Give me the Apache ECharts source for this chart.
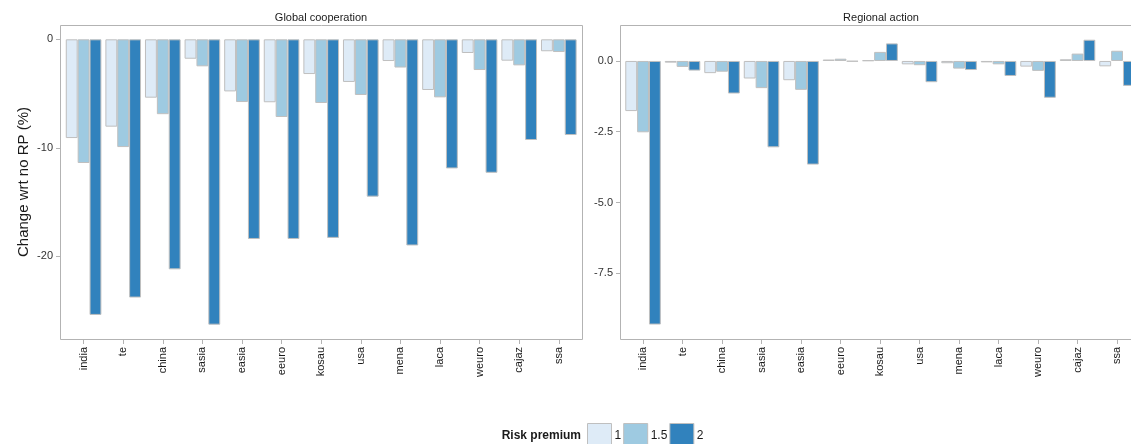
<!DOCTYPE html>
<html>
<head>
<meta charset="utf-8">
<script src="https://cdn.jsdelivr.net/npm/echarts@6/dist/echarts.min.js"></script>
<style>
html,body{margin:0;padding:0;background:#fff;overflow:hidden;width:1131px;height:444px;}
#c{width:1150px;height:444px;}
</style>
</head>
<body>
<div id="c"></div>
<script>
const categories = ['india','te','china','sasia','easia','eeuro','kosau','usa','mena','laca','weuro','cajaz','ssa'];
const riskLevels = ['1','1.5','2'];
const colors = ['#deebf7','#9ecae1','#3182bd'];

// Global cooperation panel
const global_rp1  = [-9.1, -8.05, -5.38, -1.79, -4.8, -5.8, -3.2, -3.93, -2.0, -4.67, -1.26, -1.97, -1.1];
const global_rp15 = [-11.4, -9.93, -6.9, -2.49, -5.78, -7.16, -5.87, -5.13, -2.6, -5.35, -2.83, -2.4, -1.17];
const global_rp2  = [-25.4, -23.8, -21.2, -26.3, -18.4, -18.4, -18.3, -14.5, -19.0, -11.9, -12.3, -9.28, -8.82];

// Regional action panel
const regional_rp1  = [-1.77, -0.06, -0.43, -0.62, -0.68, 0.05, 0.02, -0.12, -0.08, -0.05, -0.2, 0.06, -0.19];
const regional_rp15 = [-2.52, -0.21, -0.38, -0.96, -1.02, 0.08, 0.32, -0.15, -0.27, -0.12, -0.35, 0.26, 0.36];
const regional_rp2  = [-9.31, -0.34, -1.15, -3.05, -3.66, -0.02, 0.62, -0.75, -0.32, -0.53, -1.3, 0.75, -0.88];

const globalTicks = [0, -10, -20];
const regionalTicks = [0, -2.5, -5, -7.5];

const panelTitles = ['Global cooperation', 'Regional action'];

const FONT = 'Liberation Sans, Arial, sans-serif';
const chart = echarts.init(document.getElementById('c'));

function mkX(gi){
  return {
    type:'category', gridIndex:gi, data:categories, position:'bottom',
    axisLine:{show:false, onZero:false},
    axisTick:{show:true, alignWithLabel:true, length:5, lineStyle:{color:'#b3b3b3', width:1}},
    axisLabel:{rotate:90, fontSize:11, color:'#1a1a1a', fontFamily:FONT, margin:8, interval:0},
    splitLine:{show:false}
  };
}
function mkY(gi, min, max, ticks, fmt, offset, name){
  return {
    type:'value', gridIndex:gi, min:min, max:max, offset:offset,
    name:name||'', nameLocation:'middle', nameGap:29, nameRotate:90,
    nameTextStyle:{fontSize:15, color:'#1a1a1a', fontFamily:FONT},
    axisLine:{show:false, onZero:false},
    axisTick:{show:true, length:4, lineStyle:{color:'#b3b3b3'}, customValues:ticks},
    axisLabel:{fontSize:11, color:'#333', fontFamily:FONT, margin:7, customValues:ticks, formatter:fmt},
    splitLine:{show:false}
  };
}
function mkS(name, data, ci, gi){
  return {
    type:'bar', name:name, xAxisIndex:gi, yAxisIndex:gi, data:data,
    barWidth:'30%', barGap:'0%',
    itemStyle:{color:colors[ci], borderColor:'#bfbfbf', borderWidth:1},
    emphasis:{disabled:true}, animation:false
  };
}

const option = {
  animation:false,
  grid:[
    {left:63.8, top:25, width:514.8, height:314, show:false, containLabel:false},
    {left:623.3, top:25, width:513.5, height:314, show:false, containLabel:false}
  ],
  xAxis:[mkX(0), mkX(1)],
  yAxis:[
    mkY(0, -27.62, 1.32, globalTicks, v => String(Math.round(v)), 3.8, 'Change wrt no RP (%)'),
    mkY(1, -9.82, 1.27, regionalTicks, v => Number(v).toFixed(1), 3.3)
  ],
  legend:{
    data:riskLevels, left:587, top:423, padding:0, itemWidth:24, itemHeight:24, itemGap:2,
    icon:'rect', orient:'horizontal',
    textStyle:{fontSize:12, color:'#1a1a1a', fontFamily:FONT, padding:[0,0,0,-2]},
    itemStyle:{borderColor:'#bfbfbf', borderWidth:1},
    selectedMode:false
  },
  graphic:[
    {type:'rect', z:100, silent:true, shape:{x:60.5, y:25.5, width:522, height:314}, style:{fill:null, stroke:'#b3b3b3', lineWidth:1}},
    {type:'rect', z:100, silent:true, shape:{x:620.5, y:25.5, width:521, height:314}, style:{fill:null, stroke:'#b3b3b3', lineWidth:1}},
    {type:'text', x:321, y:18, style:{text:panelTitles[0], x:0, y:0, textAlign:'center', textVerticalAlign:'middle', font:'11px '+FONT, fill:'#1a1a1a'}},
    {type:'text', x:881, y:18, style:{text:panelTitles[1], x:0, y:0, textAlign:'center', textVerticalAlign:'middle', font:'11px '+FONT, fill:'#1a1a1a'}},
    {type:'text', x:581, y:436, style:{text:'Risk premium', x:0, y:0, textAlign:'right', textVerticalAlign:'middle', font:'bold 12px '+FONT, fill:'#1a1a1a'}}
  ],
  series:[
    mkS(riskLevels[0], global_rp1, 0, 0),
    mkS(riskLevels[1], global_rp15, 1, 0),
    mkS(riskLevels[2], global_rp2, 2, 0),
    mkS(riskLevels[0], regional_rp1, 0, 1),
    mkS(riskLevels[1], regional_rp15, 1, 1),
    mkS(riskLevels[2], regional_rp2, 2, 1)
  ]
};
chart.setOption(option);
</script>
</body>
</html>
